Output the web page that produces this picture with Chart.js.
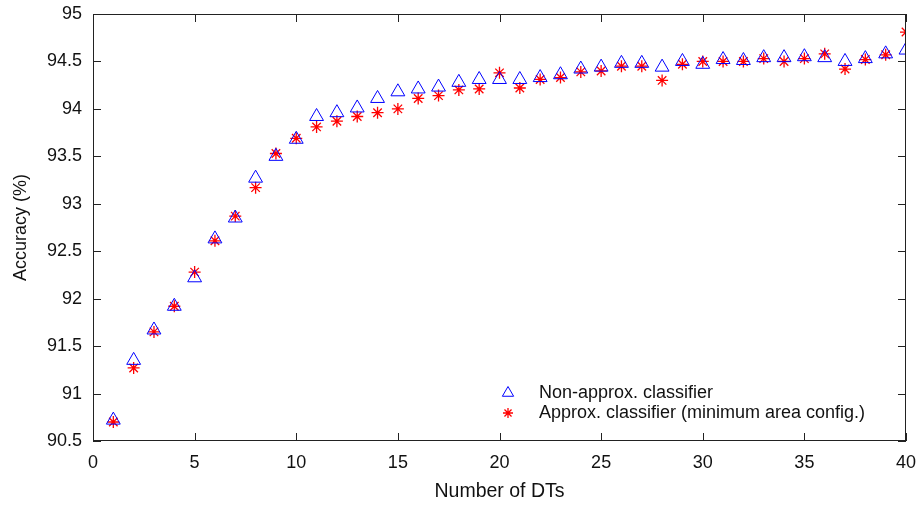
<!DOCTYPE html>
<html>
<head>
<meta charset="utf-8">
<script src="https://cdn.jsdelivr.net/npm/chart.js@4"></script>
<style>
  html, body { margin: 0; padding: 0; background: #fff; }
  #wrap { width: 917px; height: 507px; }
</style>
</head>
<body>
<div id="wrap"><canvas id="accChart" width="917" height="507"></canvas></div>
<script>
// number of decision trees on x
const numDTs = [1, 2, 3, 4, 5, 6, 7, 8, 9, 10, 11, 12, 13, 14, 15, 16, 17, 18, 19, 20,
  21, 22, 23, 24, 25, 26, 27, 28, 29, 30, 31, 32, 33, 34, 35, 36, 37, 38, 39, 40];

const nonApprox = [90.72, 91.35, 91.67, 91.92, 92.22, 92.63, 92.85, 93.27, 93.50, 93.68,
  93.92, 93.96, 94.01, 94.11, 94.18, 94.21, 94.23, 94.28, 94.31, 94.31,
  94.31, 94.33, 94.36, 94.42, 94.44, 94.48, 94.48, 94.44, 94.50, 94.47,
  94.52, 94.51, 94.54, 94.54, 94.55, 94.54, 94.50, 94.53, 94.58, 94.62];

const approxMinArea = [90.70, 91.27, 91.65, 91.92, 92.28, 92.61, 92.87, 93.17, 93.53, 93.69,
  93.81, 93.87, 93.92, 93.96, 94.00, 94.11, 94.14, 94.20, 94.21, 94.38,
  94.22, 94.31, 94.33, 94.39, 94.40, 94.45, 94.45, 94.30, 94.47, 94.50,
  94.50, 94.50, 94.53, 94.50, 94.53, 94.58, 94.42, 94.52, 94.57, 94.81];

const seriesNames = ['Non-approx. classifier', 'Approx. classifier (minimum area config.)'];
const xTicks = [0, 5, 10, 15, 20, 25, 30, 35, 40];
const yTicks = [90.5, 91, 91.5, 92, 92.5, 93, 93.5, 94, 94.5, 95];

const FONT = 'Liberation Sans, Arial, sans-serif';

function toPoints(vals) {
  return numDTs.map((n, i) => ({ x: n, y: vals[i] }));
}

// gnuplot-ish box: frame plus inward ticks on all four sides
const frameTicks = {
  id: 'frameTicks',
  afterDraw(chart) {
    const { ctx, chartArea: a, scales } = chart;
    const tl = 8;
    ctx.save();
    ctx.strokeStyle = '#222';
    ctx.lineWidth = 1;
    ctx.strokeRect(a.left + 0.5, a.top + 0.5, a.right - a.left - 1, a.bottom - a.top - 1);
    ctx.beginPath();
    xTicks.forEach(v => {
      const px = Math.round(scales.x.getPixelForValue(v)) + 0.5;
      ctx.moveTo(px, a.bottom); ctx.lineTo(px, a.bottom - tl);
      ctx.moveTo(px, a.top); ctx.lineTo(px, a.top + tl);
    });
    yTicks.forEach(v => {
      const py = Math.round(scales.y.getPixelForValue(v)) + 0.5;
      ctx.moveTo(a.left, py); ctx.lineTo(a.left + tl, py);
      ctx.moveTo(a.right, py); ctx.lineTo(a.right - tl, py);
    });
    ctx.stroke();
    ctx.restore();
  }
};

// key inside the plot, lower right
const keyBox = {
  id: 'keyBox',
  afterDraw(chart) {
    const { ctx } = chart;
    const ly = [393, 413];
    const legendRadius = [6.5, 5];
    chart.data.datasets.forEach((ds, i) => {
      ctx.save();
      ctx.strokeStyle = ds.borderColor;
      ctx.fillStyle = ds.backgroundColor;
      ctx.lineWidth = ds.borderWidth;
      Chart.helpers.drawPoint(ctx, {
        pointStyle: ds.pointStyle,
        radius: legendRadius[i],
        borderWidth: ds.borderWidth
      }, 508, ly[i]);
      ctx.restore();
    });
    ctx.save();
    ctx.font = '18px ' + FONT;
    ctx.fillStyle = '#111';
    ctx.textBaseline = 'middle';
    seriesNames.forEach((t, i) => ctx.fillText(t, 539, ly[i]));
    ctx.restore();
  }
};

const ctx = document.getElementById('accChart').getContext('2d');
const chart = new Chart(ctx, {
  type: 'scatter',
  data: {
    datasets: [
      {
        label: seriesNames[0],
        data: toPoints(nonApprox),
        pointStyle: 'triangle',
        pointRadius: 8,
        borderColor: '#0000ff',
        backgroundColor: 'rgba(0,0,0,0)',
        borderWidth: 1
      },
      {
        label: seriesNames[1],
        data: toPoints(approxMinArea),
        pointStyle: 'star',
        pointRadius: 6,
        borderColor: '#ff0000',
        backgroundColor: '#ff0000',
        borderWidth: 1.3
      }
    ]
  },
  options: {
    responsive: false,
    animation: false,
    layout: { padding: { top: 14, right: 11, left: 0, bottom: 0 } },
    plugins: {
      legend: { display: false },
      tooltip: { enabled: false }
    },
    scales: {
      x: {
        type: 'linear',
        min: 0, max: 40,
        afterBuildTicks: s => { s.ticks = xTicks.map(v => ({ value: v })); },
        afterFit: s => { s.height = 66; s.paddingLeft = 0; s.paddingRight = 0; },
        grid: { display: false, drawTicks: false },
        border: { display: false },
        ticks: { color: '#111', padding: 11, font: { family: FONT, size: 18 }, maxRotation: 0 },
        title: { display: true, text: 'Number of DTs', color: '#111', font: { family: FONT, size: 19.5 }, padding: { top: 3 } }
      },
      y: {
        min: 90.5, max: 95,
        afterBuildTicks: s => { s.ticks = yTicks.map(v => ({ value: v })); },
        afterFit: s => { s.width = 93; s.paddingTop = 0; s.paddingBottom = 0; },
        grid: { display: false, drawTicks: false },
        border: { display: false },
        ticks: {
          color: '#111', padding: 11, font: { family: FONT, size: 18 },
          callback: v => String(v)
        },
        title: { display: true, text: 'Accuracy (%)', color: '#111', font: { family: FONT, size: 18 }, padding: { top: 10 } }
      }
    }
  },
  plugins: [frameTicks, keyBox]
});
</script>
</body>
</html>
